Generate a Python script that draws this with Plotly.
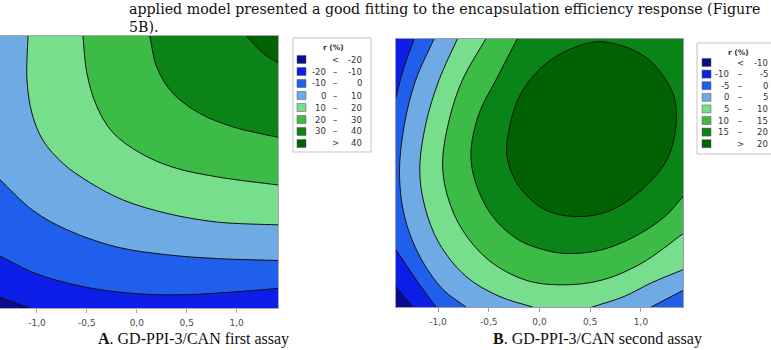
import math
import plotly.graph_objects as go

W, H = 771, 350

# ---------------- data (iso-response lines, in coded units) ----------------
# Panel A: levels -20, -10, 0, 10, 20, 30, 40
A_iso_m20 = [(-1.37, -1.30), (-1.22, -1.36), (-1.07, -1.414)]
A_iso_m10 = [(-1.37, -0.875), (-1.0, -1.06), (-0.5, -1.20), (0.0, -1.265), (0.5, -1.275),
             (1.0, -1.245), (1.414, -1.21)]
A_iso_0 = [(-1.37, -0.08), (-1.04, -0.40), (-0.70, -0.60), (-0.20, -0.78), (0.30, -0.86),
           (0.80, -0.90), (1.414, -0.92)]
A_iso_10 = [(-1.09, 1.414), (-1.10, 0.96), (-1.05, 0.61), (-0.94, 0.33), (-0.74, 0.09),
            (-0.47, -0.11), (-0.14, -0.29), (0.30, -0.43), (0.80, -0.52), (1.414, -0.55)]
A_iso_20 = [(-0.54, 1.414), (-0.50, 1.03), (-0.40, 0.68), (-0.24, 0.41), (0.03, 0.20),
            (0.36, 0.05), (0.80, -0.05), (1.414, -0.135)]
A_iso_30 = [(0.13, 1.414), (0.20, 1.09), (0.36, 0.82), (0.63, 0.61), (0.96, 0.47), (1.414, 0.36)]
A_iso_40 = [(1.10, 1.414), (1.26, 1.24), (1.414, 1.135)]

# Panel B: levels -10, -5, 0, 5, 10, 15, 20
B_iso_m10 = [(-1.414, -1.20), (-1.33, -1.31), (-1.25, -1.414)]
B_iso_m5_top = [(-1.235, 1.414), (-1.34, 1.10), (-1.414, 0.80)]
B_iso_m5_bot = [(-1.414, -0.81), (-1.20, -1.15), (-1.02, -1.414)]
B_iso_0_a = [(-1.04, 1.414), (-1.22, 0.98), (-1.33, 0.52), (-1.38, 0.0), (-1.33, -0.46),
             (-1.18, -0.88), (-0.95, -1.23), (-0.725, -1.414)]
B_iso_0_b = [(1.10, -1.414), (1.25, -1.33), (1.414, -1.24)]
B_iso_5_a = [(-0.81, 1.414), (-0.99, 0.98), (-1.12, 0.52), (-1.18, 0.03), (-1.13, -0.355),
             (-0.99, -0.74), (-0.725, -1.09), (-0.40, -1.30), (-0.07, -1.414)]
B_iso_5_b = [(0.52, -1.414), (0.84, -1.30), (1.10, -1.16), (1.414, -1.02)]
B_iso_10 = [(-0.53, 1.414), (-0.76, 0.98), (-0.89, 0.56), (-0.955, 0.10), (-0.905, -0.25),
            (-0.76, -0.60), (-0.50, -0.92), (-0.137, -1.13), (0.22, -1.18), (0.615, -1.13),
            (1.01, -0.95), (1.414, -0.64)]
B_iso_15 = [(-0.22, 1.414), (-0.43, 0.98), (-0.595, 0.63), (-0.676, 0.21), (-0.627, -0.11),
            (-0.46, -0.46), (-0.20, -0.71), (0.12, -0.83), (0.32, -0.85), (0.615, -0.81),
            (0.94, -0.67), (1.235, -0.46), (1.414, -0.25)]
B_iso_20 = [(0.615, 1.385), (1.04, 1.227), (1.30, 0.876), (1.35, 0.594), (1.27, 0.172),
            (1.04, -0.144), (0.71, -0.39), (0.385, -0.46), (0.06, -0.39), (-0.20, -0.144),
            (-0.32, 0.172), (-0.30, 0.454), (-0.20, 0.805), (0.026, 1.12), (0.32, 1.315)]

band_colors = ["#0b0b8f", "#0d1ee8", "#1f5fec", "#6eaae4",
               "#76de8d", "#3cbc46", "#0a8416", "#006200"]

legendA = [("<", "-20"), ("-20", "-10"), ("-10", "0"), ("0", "10"),
           ("10", "20"), ("20", "30"), ("30", "40"), (">", "40")]
legendB = [("<", "-10"), ("-10", "-5"), ("-5", "0"), ("0", "5"),
           ("5", "10"), ("10", "15"), ("15", "20"), (">", "20")]

tick_vals = [-1.0, -0.5, 0.0, 0.5, 1.0]
tick_text = ["-1,0", "-0,5", "0,0", "0,5", "1,0"]

body_line1 = "applied model presented a good fitting to the encapsulation efficiency response (Figure"
body_line2 = "5B)."
captionA = "<b>A</b>. GD-PPI-3/CAN first assay"
captionB = "<b>B</b>. GD-PPI-3/CAN second assay"
legend_title = "r (%)"

# ---------------- helpers ----------------
def fx(px):
    return px / W


def fy(py):
    return 1 - py / H


FAR = 3.0


def ext(p_end, p_prev, lengths):
    dx, dy = p_end[0] - p_prev[0], p_end[1] - p_prev[1]
    n = math.hypot(dx, dy)
    dx, dy = dx / n, dy / n
    return [(p_end[0] + dx * L, p_end[1] + dy * L) for L in lengths]


def region_path(segments, corners):
    """Iso-lines (continued a little past the frame) closed through far-away corners."""
    pts = []
    last = len(segments) - 1
    for i, seg in enumerate(segments):
        if i == 0:
            pts += ext(seg[0], seg[1], [1.5, 0.6, 0.2])
        else:
            pts += ext(seg[0], seg[1], [0.2])
        pts += list(seg)
        if i == last:
            pts += ext(seg[-1], seg[-2], [0.2, 0.6, 1.5])
        else:
            pts += ext(seg[-1], seg[-2], [0.2])
    pts += [(cx * FAR, cy * FAR) for cx, cy in corners]
    return pts


def add_region(fig, pts, color, xa, ya, closed=False):
    if closed:
        pts = list(pts) + [pts[0]]
    fig.add_trace(go.Scatter(
        x=[p[0] for p in pts], y=[p[1] for p in pts], mode="lines",
        fill="toself", fillcolor=color,
        line=dict(color="#111111", width=1, shape="spline", smoothing=1.0, simplify=False),
        hoverinfo="skip", xaxis=xa, yaxis=ya))


def add_background(fig, color, xa, ya):
    fig.add_trace(go.Scatter(
        x=[-FAR, FAR, FAR, -FAR], y=[-FAR, -FAR, FAR, FAR], mode="lines",
        fill="toself", fillcolor=color, line=dict(width=0),
        hoverinfo="skip", xaxis=xa, yaxis=ya))


fig = go.Figure()

# ---- panel A ----
add_background(fig, band_colors[1], "x", "y")
add_region(fig, region_path([A_iso_m20], [(-1, -1)]), band_colors[0], "x", "y")
add_region(fig, region_path([A_iso_m10], [(1, 1), (-1, 1)]), band_colors[2], "x", "y")
add_region(fig, region_path([A_iso_0], [(1, 1), (-1, 1)]), band_colors[3], "x", "y")
add_region(fig, region_path([A_iso_10], [(1, 1)]), band_colors[4], "x", "y")
add_region(fig, region_path([A_iso_20], [(1, 1)]), band_colors[5], "x", "y")
add_region(fig, region_path([A_iso_30], [(1, 1)]), band_colors[6], "x", "y")
add_region(fig, region_path([A_iso_40], [(1, 1)]), band_colors[7], "x", "y")

# ---- panel B ----
add_background(fig, band_colors[2], "x2", "y2")
add_region(fig, region_path([B_iso_m5_top], [(-1, 1)]), band_colors[1], "x2", "y2")
add_region(fig, region_path([B_iso_m5_bot], [(-1, -1)]), band_colors[1], "x2", "y2")
add_region(fig, region_path([B_iso_m10], [(-1, -1)]), band_colors[0], "x2", "y2")
add_region(fig, region_path([B_iso_0_a, B_iso_0_b], [(1, 1)]), band_colors[3], "x2", "y2")
add_region(fig, region_path([B_iso_5_a, B_iso_5_b], [(1, 1)]), band_colors[4], "x2", "y2")
add_region(fig, region_path([B_iso_10], [(1, 1)]), band_colors[5], "x2", "y2")
add_region(fig, region_path([B_iso_15], [(1, 1)]), band_colors[6], "x2", "y2")
add_region(fig, B_iso_20, band_colors[7], "x2", "y2", closed=True)

axis_common = dict(showgrid=False, zeroline=False, fixedrange=True)
tickfont = dict(family="DejaVu Sans", size=9, color="#4a4a4a")

fig.update_layout(
    width=W, height=H,
    margin=dict(l=0, r=0, t=0, b=0),
    paper_bgcolor="white", plot_bgcolor="white",
    showlegend=False,
    xaxis=dict(domain=[fx(0), fx(278)], range=[-1.37, 1.414], tickvals=tick_vals,
               ticktext=tick_text, ticks="outside", ticklen=4, tickcolor="#aaaaaa",
               tickfont=tickfont, showline=True, mirror=True, linecolor="#aaaaaa",
               linewidth=1, ticklabelstandoff=2, layer="above traces", **axis_common),
    yaxis=dict(domain=[fy(308), fy(36)], range=[-1.414, 1.414], side="right",
               showticklabels=False, ticks="", showline=True, linecolor="#aaaaaa",
               linewidth=1, layer="above traces", **axis_common),
    xaxis2=dict(domain=[fx(396), fx(683)], range=[-1.414, 1.414], tickvals=tick_vals,
                ticktext=tick_text, ticks="outside", ticklen=4, tickcolor="#9a9ab0",
                tickfont=tickfont, showline=True, mirror=True, linecolor="#9a9ab0",
                linewidth=1, anchor="y2", ticklabelstandoff=2, layer="above traces",
                **axis_common),
    yaxis2=dict(domain=[fy(307), fy(39)], range=[-1.414, 1.414], showticklabels=False,
                ticks="", showline=True, mirror=True, linecolor="#9a9ab0",
                linewidth=1, anchor="x2", layer="above traces", **axis_common),
)

shapes = []
annotations = []

serif = "Liberation Serif"
annotations.append(dict(x=fx(128), y=fy(0), xref="paper", yref="paper",
                        text=body_line1 + "<br>" + body_line2,
                        showarrow=False, xanchor="left", yanchor="top", align="left",
                        borderpad=0,
                        font=dict(family="DejaVu Serif", size=14.2, color="#111111")))
annotations.append(dict(x=fx(193), y=fy(339), xref="paper", yref="paper", text=captionA,
                        showarrow=False, xanchor="center", yanchor="middle",
                        font=dict(family=serif, size=16, color="#111111")))
annotations.append(dict(x=fx(597), y=fy(339), xref="paper", yref="paper", text=captionB,
                        showarrow=False, xanchor="center", yanchor="middle",
                        font=dict(family=serif, size=16, color="#111111")))

legfont = dict(family="DejaVu Sans", size=8.5, color="#333333")


def add_legend(box, title_xy, rows_y0, dy, sw_x, low_r, dash_c, high_r, labels):
    x0, y0, x1, y1 = box
    shapes.append(dict(type="rect", xref="paper", yref="paper",
                       x0=fx(x0), x1=fx(x1), y0=fy(y1), y1=fy(y0),
                       line=dict(color="#c4c4c4", width=1), fillcolor="white"))
    annotations.append(dict(x=fx(title_xy[0]), y=fy(title_xy[1]), xref="paper", yref="paper",
                            text="<b>" + legend_title + "</b>", showarrow=False,
                            xanchor="center", yanchor="middle",
                            font=dict(family="DejaVu Sans", size=7.5, color="#333333")))
    for i, (lo, hi) in enumerate(labels):
        yc = rows_y0 + dy * i
        shapes.append(dict(type="rect", xref="paper", yref="paper",
                           x0=fx(sw_x), x1=fx(sw_x + 9), y0=fy(yc + 4), y1=fy(yc - 4),
                           line=dict(color="#555555", width=0.5), fillcolor=band_colors[i]))
        if lo in ("<", ">"):
            annotations.append(dict(x=fx(dash_c), y=fy(yc), xref="paper", yref="paper",
                                    text=lo, showarrow=False, xanchor="center",
                                    yanchor="middle", font=legfont))
        else:
            annotations.append(dict(x=fx(low_r), y=fy(yc), xref="paper", yref="paper",
                                    text=lo, showarrow=False, xanchor="right",
                                    yanchor="middle", font=legfont))
            annotations.append(dict(x=fx(dash_c), y=fy(yc), xref="paper", yref="paper",
                                    text="–", showarrow=False, xanchor="center",
                                    yanchor="middle", font=legfont))
        annotations.append(dict(x=fx(high_r), y=fy(yc), xref="paper", yref="paper",
                                text=hi, showarrow=False, xanchor="right",
                                yanchor="middle", font=legfont))


add_legend((293, 38, 371, 152), (333, 48), 59.5, 12.0, 297, 328, 335, 364, legendA)
add_legend((697, 43, 790, 154), (738, 52), 62.5, 11.6, 702, 731, 740, 770, legendB)

fig.update_layout(shapes=shapes, annotations=annotations)

fig.write_html("out.html")
